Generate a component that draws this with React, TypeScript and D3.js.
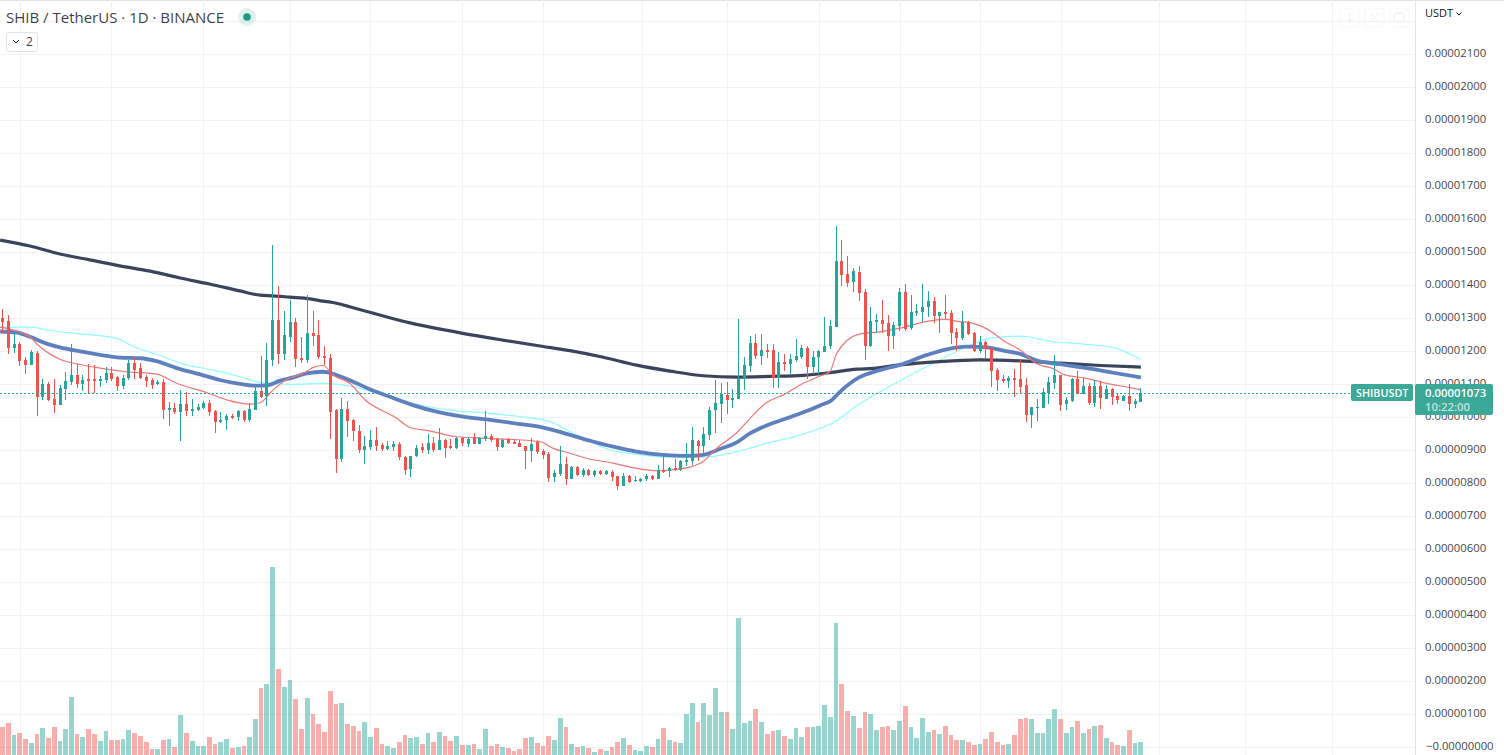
import React from "react";
import * as d3 from "d3";

const opens = [1302,1292,1211,1222,1174,1159,1195,1063,1101,1055,1038,1086,1107,1128,1101,1116,1116,1110,1113,1134,1122,1095,1119,1165,1150,1122,1113,1101,1106,1022,1028,1016,1040,1019,1022,1028,1043,1019,986,992,1004,1001,1019,992,1022,1080,1065,1174,1295,1192,1243,1289,1180,1175,1256,1249,1186,1181,1022,875,1025,992,958,901,910,931,916,904,910,919,879,843,883,910,901,922,901,931,913,907,937,919,940,919,934,943,934,910,934,925,922,913,898,925,898,889,819,828,858,813,850,825,839,825,836,828,834,822,792,822,807,807,813,822,813,840,837,846,840,865,868,928,913,946,1022,1040,1068,1052,1056,1119,1155,1225,1186,1204,1204,1119,1168,1162,1174,1183,1210,1152,1183,1198,1216,1274,1474,1434,1410,1440,1380,1216,1289,1295,1286,1246,1277,1380,1271,1316,1319,1334,1353,1307,1319,1316,1259,1240,1289,1256,1201,1228,1210,1143,1116,1110,1119,1116,1098,1007,1028,1028,1074,1104,1128,1040,1050,1116,1071,1095,1043,1095,1056,1086,1065,1050,1065,1041,1047];
const highs = [1328,1310,1255,1228,1182,1204,1201,1116,1106,1116,1098,1137,1222,1161,1128,1161,1159,1125,1153,1153,1125,1128,1174,1180,1165,1128,1118,1113,1115,1047,1044,1083,1076,1056,1040,1050,1053,1022,1016,1010,1009,1022,1022,1043,1092,1186,1225,1522,1398,1322,1356,1301,1244,1371,1322,1295,1217,1192,1025,1057,1049,995,976,943,961,970,922,928,928,925,882,882,916,922,949,940,967,934,934,940,940,940,952,940,1019,949,937,934,937,934,931,913,937,931,904,895,840,913,880,852,852,845,843,840,840,840,839,822,830,826,822,816,828,826,855,883,849,874,871,922,971,931,971,1031,1113,1104,1107,1086,1298,1183,1246,1252,1252,1222,1222,1198,1192,1192,1237,1219,1216,1201,1204,1304,1295,1580,1537,1489,1453,1459,1389,1334,1313,1356,1310,1289,1392,1404,1371,1343,1404,1383,1365,1319,1371,1325,1271,1322,1292,1259,1246,1231,1210,1150,1128,1125,1147,1174,1119,1031,1056,1089,1122,1189,1128,1062,1119,1140,1119,1104,1113,1110,1098,1089,1074,1068,1101,1056,1089];
const lows = [1255,1192,1196,1154,1131,1159,1005,1053,1050,1013,1037,1053,1098,1090,1080,1075,1075,1093,1105,1110,1080,1086,1113,1116,1116,1093,1086,1097,995,974,1010,928,1004,1004,1019,1025,1004,953,983,962,995,989,986,986,1022,1059,1034,1156,1162,1174,1228,1153,1165,1166,1216,1177,1159,934,832,865,940,928,893,858,901,898,898,901,898,870,825,819,879,892,889,895,901,876,904,904,913,910,919,919,928,925,898,907,919,919,910,843,864,889,873,804,804,822,795,813,822,820,823,820,825,825,807,780,792,802,804,804,807,809,813,831,819,837,837,852,856,868,883,931,952,983,1010,1028,1056,1083,1137,1177,1159,1180,1089,1089,1140,1131,1168,1177,1116,1131,1131,1198,1207,1274,1398,1395,1380,1353,1174,1213,1256,1256,1201,1207,1262,1262,1265,1307,1289,1304,1286,1256,1298,1222,1201,1234,1250,1198,1195,1177,1092,1080,1104,1089,1062,1074,986,968,989,1028,1040,1086,1019,1022,1047,1071,1071,1037,1031,1025,1056,1037,1040,1050,1019,1028,1047];
const closes = [1290,1211,1222,1172,1157,1198,1063,1101,1053,1038,1089,1109,1127,1101,1113,1110,1110,1116,1134,1116,1095,1119,1165,1143,1119,1110,1098,1107,1022,1028,1016,1040,1019,1025,1031,1043,1016,986,992,1004,998,1019,992,1025,1080,1062,1174,1295,1192,1250,1289,1177,1175,1255,1247,1182,1180,1017,874,1025,990,959,901,913,931,913,904,913,919,879,840,882,907,901,922,901,931,907,907,937,922,934,919,937,943,931,910,931,922,919,910,898,919,895,886,816,831,858,813,850,825,839,825,836,828,836,820,792,822,804,810,813,822,813,840,834,846,839,868,871,931,913,949,1022,1043,1071,1052,1059,1119,1159,1225,1186,1204,1198,1119,1168,1162,1177,1186,1210,1152,1183,1201,1216,1277,1474,1431,1407,1443,1377,1216,1292,1295,1283,1246,1280,1380,1268,1319,1322,1334,1353,1307,1319,1313,1256,1240,1289,1253,1201,1228,1207,1140,1113,1110,1119,1113,1092,1007,1031,1031,1077,1107,1128,1037,1053,1116,1071,1095,1043,1095,1059,1086,1062,1053,1065,1041,1050,1073];
const volumes = [28,32,20,22,16,12,21,27,17,28,14,26,58,21,18,26,21,14,24,15,15,16,25,22,19,13,6,6,15,16,8,40,22,14,9,9,18,11,13,16,7,8,9,18,36,67,71,188,86,68,75,56,26,57,41,31,23,64,51,52,31,29,24,33,18,27,11,9,7,13,20,17,18,11,22,13,23,19,14,19,10,10,11,6,26,9,11,8,7,4,6,17,18,12,9,19,15,37,28,11,8,9,7,3,6,4,8,13,17,10,5,4,9,8,16,27,15,13,12,41,52,33,52,40,67,43,43,26,137,32,34,46,33,21,24,25,19,16,27,18,28,28,29,50,38,132,71,44,39,27,43,41,25,28,29,25,34,49,28,17,37,23,25,21,29,20,15,15,13,10,11,16,23,13,10,11,20,36,37,36,22,22,36,46,36,22,28,34,22,26,29,30,17,13,10,9,25,12,13];

const priceTicks = [2100,2000,1900,1800,1700,1600,1500,1400,1300,1200,1100,1000,900,800,700,600,500,400,300,200,100,0];
const timeGrid = [19.5,111,203,290,370,462,543,642,727,819,900,980,1061,1159,1245,1332];
const lastPrice = 1073;

const ma200Idx = [-0.4,4.8,10,15.2,20.4,25.7,30.9,36,41.3,44.8,47.1,50,53.5,55.8,57.5,60.4,70.9,79.6,87,93.5,98.7,104.5,110.3,116.1,121.9,127.7,133.5,139.3,143.9,148.6,151.5,156.1,163,170,177,184,191,198];
const ma200Val = [1537,1519,1495,1477,1459,1443,1422,1404,1383,1370,1368,1364,1359,1352,1348,1335,1286,1256,1234,1216,1202,1182,1158,1140,1126,1122,1124,1127,1135,1146,1148,1159,1169,1174,1171,1164,1157,1152];

const ma50Idx = [-0.4,2.5,4.8,7.1,10,13.5,17,20.5,24,26.8,30.3,34.4,37.8,41.3,43.6,46,48.3,50.6,52.9,55.8,58.1,61,63.9,67.4,71.4,75.5,80.1,84.8,89.4,94.1,97.5,102.2,106.2,110.3,114.9,119,121.9,124.8,127.7,130,132.9,136.4,139.3,142.2,144.2,145.7,149,152.6,156.1,160.8,164.2,167.7,171.2,174.1,177,179.9,183.9,188.6,193.2,198];
const ma50Val = [1260,1257,1244,1227,1212,1200,1189,1181,1179,1170,1149,1130,1113,1101,1096,1097,1111,1121,1133,1138,1128,1108,1085,1062,1037,1017,1002,992,981,969,953,929,911,896,886,883,886,904,924,951,975,997,1015,1036,1052,1078,1121,1143,1159,1189,1206,1214,1212,1202,1192,1172,1161,1149,1135,1121];

const ma100Idx = [-0.4,2,4.8,8.3,13.5,19.9,22.8,26.8,32,36.7,41.3,44.8,47.1,50,55.8,59.9,63.3,69.1,73.2,77.8,84.8,90.6,94.9,98.7,102.2,106.2,110.3,116.1,121.9,127.7,132.9,138.1,142.2,144.1,149,156.1,162.5,167.7,171.8,177,182.8,188.6,193.2,198];
const ma100Val = [1273,1273,1273,1263,1253,1239,1214,1191,1159,1143,1123,1106,1103,1100,1103,1096,1083,1054,1035,1022,1012,1001,989,957,926,899,888,879,879,896,921,943,967,980,1040,1111,1169,1214,1240,1246,1229,1221,1211,1176];

const ma20Idx = [-0.4,1.3,4.8,6,10,13.5,17,21.6,26.8,30.3,35.5,39,43.1,44.8,47.1,49.5,52.3,54.3,55.8,57.5,60.4,63,68.6,70.9,74.3,79,84.8,93.5,95.8,98.7,101.6,106.2,110.3,113.8,118.4,121.9,124.2,127.7,130.3,132.9,135.8,139.3,142.2,143.9,145.1,149,152.6,156.1,161.3,163.9,166.5,168.3,171.2,174.7,177,179.9,182.8,184.5,188.6,192,196.1,198];
const ma20Val = [1273,1267,1244,1222,1176,1160,1149,1138,1131,1103,1075,1053,1040,1044,1083,1115,1133,1153,1157,1128,1103,1054,997,969,959,941,936,926,906,891,876,861,845,838,845,866,906,953,1002,1045,1068,1103,1125,1138,1194,1252,1259,1270,1292,1297,1290,1287,1268,1226,1204,1162,1147,1130,1118,1103,1090,1083];

const W = 1504, H = 755;
const font = "'Open Sans', Roboto, sans-serif";
const x = d3.scaleLinear().domain([0, 198]).range([2.4, 1140.9]);
const y = d3.scaleLinear().domain([0, 2200]).range([747.3, 21.3]);
const yVol = d3.scaleLinear().domain([0, 188]).range([755, 567]);
const UP = "#26a69a", DOWN = "#ef5350";
const axisX = 1415;

const slotStart = (i: number) => Math.ceil(x(i) - 2.4 - 0.5);

const maPath = (idx: number[], val: number[]) =>
  d3.line<number>().x((i) => x(idx[i])).y((i) => y(val[i])).curve(d3.curveMonotoneX)(idx.map((_, i) => i)) || "";

export default function App() {
  const py = Math.round(y(lastPrice));
  return (
    <svg width={W} height={H} style={{ position: "absolute", left: 0, top: 0, background: "#fff", display: "block" }}>
      <rect x={0} y={0} width={W} height={1} fill="#e0e3eb" />
      {[...priceTicks, 2200].map((t) => (
        <rect key={t} x={0} y={Math.round(y(t))} width={axisX} height={1} fill="#f1f2f4" />
      ))}
      {timeGrid.map((g) => (
        <rect key={g} x={Math.round(g)} y={0} width={1} height={H} fill="#f1f2f4" />
      ))}

      {volumes.map((v, i) => {
        const s = slotStart(i);
        return (
          <rect key={i} x={s} y={yVol(v)} width={slotStart(i + 1) - s - 1} height={H - yVol(v)}
            fill={closes[i] >= opens[i] ? UP : DOWN} fillOpacity={0.47} />
        );
      })}

      <path d={maPath(ma100Idx, ma100Val)} fill="none" stroke="#8ffcfc" strokeWidth={1.2} />
      <path d={maPath(ma200Idx, ma200Val)} fill="none" stroke="#3a445c" strokeWidth={3.2} />
      <path d={maPath(ma50Idx, ma50Val)} fill="none" stroke="#5f80bf" strokeWidth={3.8} />
      <path d={maPath(ma20Idx, ma20Val)} fill="none" stroke="#f07575" strokeWidth={1.2} />

      {opens.map((o, i) => {
        const c = closes[i];
        const col = c >= o ? UP : DOWN;
        const s = slotStart(i);
        const top = Math.round(y(Math.max(o, c)));
        const bot = Math.round(y(Math.min(o, c)));
        const hi = Math.round(y(highs[i]));
        const lo = Math.round(y(lows[i]));
        return (
          <g key={i}>
            <rect x={s + 2} y={hi} width={1} height={Math.max(lo - hi, 1)} fill={col} />
            <rect x={s + 1} y={top} width={3} height={Math.max(bot - top, 1)} fill={col} />
          </g>
        );
      })}

      <line x1={0} x2={1352} y1={py + 0.5} y2={py + 0.5} stroke={UP} strokeWidth={1} strokeDasharray="2 2" />

      <text x={6} y={23} fontFamily={font} fontSize={15} fill="#131722" fillOpacity={0.85}>SHIB / TetherUS · 1D · BINANCE</text>
      <circle cx={247} cy={17} r={9} fill="#26a69a" fillOpacity={0.15} />
      <circle cx={247} cy={17} r={3.8} fill="#1e9a80" />
      <rect x={6.5} y={32.5} width={31} height={19} rx={3} fill="#fff" stroke="#e0e3eb" />
      <path d="M13 40 L16 43 L19 40" fill="none" stroke="#131722" strokeWidth={1} />
      <text x={26} y={46} fontFamily={font} fontSize={12} fill="#131722" fillOpacity={0.85}>2</text>

      {[1340, 1365, 1390].map((bx) => (
        <rect key={bx} x={bx} y={8} width={19} height={19} rx={3} fill="none" stroke="#f6f7f9" />
      ))}
      <path d="M1349.5 13 V22 M1346 19 L1349.5 22 L1353 19" fill="none" stroke="#eceef2" />
      <path d="M1370 13 L1374.5 17 L1379 13 M1370 22 L1374.5 18 L1379 22" fill="none" stroke="#eceef2" />
      <rect x={1394} y={13} width={10} height={9} rx={3} fill="none" stroke="#eceef2" />

      <rect x={axisX} y={0} width={1} height={H} fill="#e0e3eb" />
      <text x={1425} y={17} fontFamily={font} fontSize={11} fill="#131722">USDT</text>
      <path d="M1456.5 12.5 L1459 15 L1461.5 12.5" fill="none" stroke="#131722" strokeWidth={1} />
      {priceTicks.map((t) => (
        <text key={t} x={t === 0 ? 1426 : 1425} y={y(t) + 2.5} fontFamily={font} fontSize={11.3} fill="#131722" fillOpacity={0.85}>
          {(t === 0 ? "−" : "") + (t / 1e8).toFixed(8)}
        </text>
      ))}

      <rect x={1351} y={384} width={62} height={17} rx={2} fill="#3ba898" />
      <text x={1356} y={397} fontFamily={font} fontSize={10.8} fontWeight={600} fill="#fff">SHIBUSDT</text>
      <rect x={1415} y={384} width={78} height={31} rx={2} fill="#3ba898" />
      <text x={1425} y={397} fontFamily={font} fontSize={11.3} fontWeight={600} fill="#fff">{(lastPrice / 1e8).toFixed(8)}</text>
      <text x={1425} y={411} fontFamily={font} fontSize={11.3} fontWeight={600} fill="#fff" fillOpacity={0.7}>10:22:00</text>
    </svg>
  );
}
